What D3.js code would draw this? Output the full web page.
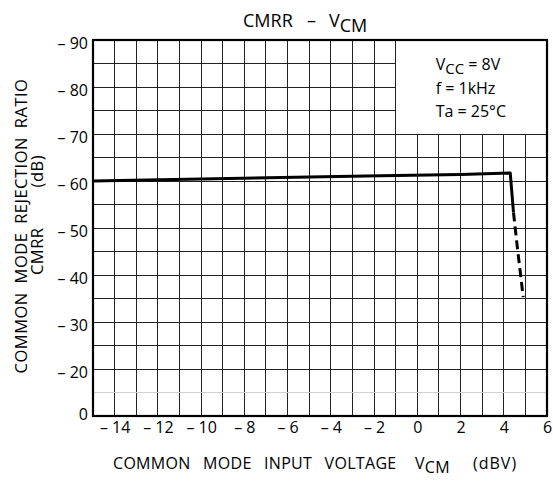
<!DOCTYPE html>
<html>
<head>
<meta charset="utf-8">
<script src="https://cdn.jsdelivr.net/npm/d3@7"></script>
<style>
  body { margin: 0; background: #fff; }
  text { font-family: "Open Sans", sans-serif; fill: #000; }
  .grid line { stroke: #222; stroke-width: 1; shape-rendering: crispEdges; }
  .grid line.light { stroke: #d0d0d0; }
  .line-path { fill: none; stroke: #000; stroke-width: 3; stroke-linejoin: round; }
  .axis-label { font-size: 16px; letter-spacing: 0.3px; word-spacing: 8px; }
  .y-label { font-size: 16.5px; letter-spacing: 0.5px; word-spacing: 4px; }
</style>
</head>
<body>
<svg id="chart" width="553" height="483"></svg>
<script>
// tick labels / grid
const xTicks = [-14, -12, -10, -8, -6, -4, -2, 0, 2, 4, 6];
const xGrid = d3.range(-15, 7, 1);
const yTicks = [0, -20, -30, -40, -50, -60, -70, -80, -90];
const yHalf = [-10, -25, -35, -45, -55, -65, -75, -85];

// CMRR (dB) vs VCM (dBV)
const vcmSolid  = [-15, -10, -5, -1.7, 2, 4.3, 4.45];
const cmrrSolid = [-60.0, -60.4, -60.85, -61.1, -61.4, -61.7, -53.3];
const vcmDash   = [4.45, 4.65, 4.9];
const cmrrDash  = [-53.3, -45, -35.3];

const conditions = [
  ["V", "CC", " = 8V"],
  ["f = 1kHz", "", ""],
  ["Ta = 25°C", "", ""]
];

function chart() {
  const svg = d3.select("#chart");
  const width = +svg.attr("width");
  const height = +svg.attr("height");
  const margin = {top: 40, right: 6, bottom: 67, left: 93};
  const innerWidth = width - margin.left - margin.right;
  const innerHeight = height - margin.top - margin.bottom;
  const step = innerHeight / 8;

  const xScale = d3.scaleLinear().domain([-15, 6]).range([0, innerWidth]);
  // broken axis: 0 -> -20 is one division, then 10 dB per division
  const yScale = d3.scaleLinear().domain([0, -20, -90]).range([innerHeight, innerHeight - step, 0]);

  const g = svg.append("g").attr("transform", `translate(${margin.left},${margin.top})`);

  // grid
  const grid = g.append("g").attr("class", "grid");
  grid.selectAll(".vx").data(xGrid).enter().append("line")
    .attr("x1", d => xScale(d)).attr("x2", d => xScale(d))
    .attr("y1", 0).attr("y2", innerHeight);
  grid.selectAll(".hy").data(yTicks.concat(yHalf)).enter().append("line")
    .attr("class", d => d === -10 ? "light" : null)
    .attr("x1", 0).attr("x2", innerWidth)
    .attr("y1", d => yScale(d)).attr("y2", d => yScale(d));

  // condition box
  g.append("rect")
    .attr("x", xScale(-1)).attr("y", yScale(-90))
    .attr("width", xScale(6) - xScale(-1)).attr("height", yScale(-70) - yScale(-90))
    .attr("fill", "#fff").attr("stroke", "#222").attr("shape-rendering", "crispEdges");

  conditions.forEach((c, i) => {
    const t = g.append("text").attr("font-size", 16)
      .attr("x", xScale(-1) + 40).attr("y", [29.5, 54, 77][i]);
    t.append("tspan").text(c[0]);
    if (c[1]) {
      t.append("tspan").attr("dy", 4).attr("font-size", 15).text(c[1]);
      t.append("tspan").attr("dy", -4).text(c[2]);
    }
  });

  // curve
  const lineGenerator = d3.line()
    .x(d => xScale(d[0]))
    .y(d => yScale(d[1]));
  g.append("path").attr("class", "line-path")
    .attr("d", lineGenerator(d3.zip(vcmSolid, cmrrSolid)));
  g.append("path").attr("class", "line-path")
    .attr("stroke-dasharray", "9,5")
    .attr("stroke-linejoin", "miter")
    .attr("d", lineGenerator(d3.zip(vcmDash, cmrrDash)));

  // frame
  g.append("rect").attr("width", innerWidth).attr("height", innerHeight)
    .attr("fill", "none").attr("stroke", "#000").attr("stroke-width", 2.2);

  // axes
  const fmt = d => d < 0 ? "\u2013 " + (-d) : String(d);
  const xAxisG = g.append("g").attr("transform", `translate(0,${innerHeight})`)
    .call(d3.axisBottom(xScale).tickValues(xTicks).tickSize(0).tickPadding(6).tickFormat(fmt));
  xAxisG.select(".domain").remove();
  xAxisG.selectAll("text").attr("font-size", 16).attr("font-family", null).attr("fill", "#000");

  const yAxisG = g.append("g")
    .call(d3.axisLeft(yScale).tickValues(yTicks).tickSize(0).tickPadding(5).tickFormat(fmt));
  yAxisG.select(".domain").remove();
  yAxisG.selectAll("text").attr("font-size", 16).attr("font-family", null).attr("fill", "#000")
    .attr("dy", d => d === 0 ? "0.2em" : "0.5em");

  // title
  const title = svg.append("text").attr("font-size", 18).attr("y", 27);
  title.append("tspan").attr("x", 243).text("CMRR");
  title.append("tspan").attr("x", 307).text("\u2013");
  title.append("tspan").attr("x", 329).text("V");
  title.append("tspan").attr("dy", 5).text("CM");

  // x axis label
  const xl = svg.append("text").attr("class", "axis-label").attr("y", 469);
  xl.append("tspan").attr("x", 113).text("COMMON MODE INPUT VOLTAGE");
  xl.append("tspan").attr("x", 415).text("V");
  xl.append("tspan").attr("dy", 4).text("CM");
  xl.append("tspan").attr("dy", -4).attr("x", 473)
    .attr("letter-spacing", 1).text("(dBV)");

  // y axis label
  const cy = margin.top + innerHeight / 2;
  svg.append("text").attr("class", "y-label").attr("text-anchor", "middle")
    .attr("transform", `translate(27,${cy - 2}) rotate(-90)`)
    .text("COMMON MODE REJECTION RATIO");
  const y2 = svg.append("text").attr("class", "y-label").attr("text-anchor", "middle")
    .attr("transform", `translate(43,${cy - 13}) rotate(-90)`);
  y2.append("tspan").text("CMRR");
  y2.append("tspan").attr("dx", 40).text("(dB)");
}
chart();
</script>
</body>
</html>
